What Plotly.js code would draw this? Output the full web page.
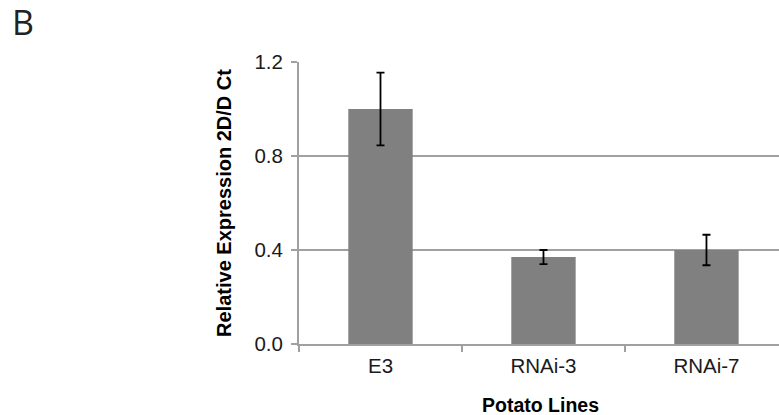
<!DOCTYPE html>
<html>
<head>
<meta charset="utf-8">
<script src="https://cdn.plot.ly/plotly-3.0.1.min.js"></script>
<style>html,body{margin:0;padding:0;background:#fff;}#chart{width:779px;height:415px;}</style>
</head>
<body>
<div id="chart"></div>
<script>
const categories = ["E3", "RNAi-3", "RNAi-7"];
const expression = [1.0, 0.37, 0.40];
const errors = [0.155, 0.03, 0.065];
const yTicks = [0, 0.4, 0.8, 1.2];

const W = 779, H = 415;
const mL = 299, mR = 0, mT = 62, mB = 71;
const plotW = W - mL - mR, plotH = H - mT - mB;
function px2paperX(px){ return (px - mL) / plotW; }
function px2paperY(py){ return 1 - (py - mT) / plotH; }

const trace = {
  type: "bar",
  x: categories,
  y: expression,
  width: 0.395,
  marker: {color: "#808080", line: {width: 0}},
  error_y: {type: "data", array: errors, visible: true, color: "#000000", thickness: 1.8, width: 4}
};

const layout = {
  width: W, height: H,
  margin: {l: mL, r: mR, t: mT, b: mB, pad: 0},
  paper_bgcolor: "#ffffff",
  plot_bgcolor: "#ffffff",
  showlegend: false,
  font: {family: "Liberation Sans, Arial, sans-serif", size: 20, color: "#1a1a1a"},
  xaxis: {
    type: "category",
    range: [-0.5, 2.445],
    showgrid: false,
    showline: true, linecolor: "#a0a0a0", linewidth: 2,
    ticks: "outside", tickson: "boundaries", ticklen: 6, tickcolor: "#a0a0a0", tickwidth: 1.5,
    ticklabelstandoff: 2,
    tickfont: {size: 20.5, color: "#1a1a1a"},
    zeroline: false, fixedrange: true
  },
  yaxis: {
    range: [0, 1.2],
    tickvals: yTicks,
    tickformat: ".1f",
    showgrid: true, gridcolor: "#a0a0a0", gridwidth: 2,
    showline: true, linecolor: "#a0a0a0", linewidth: 2,
    ticks: "outside", ticklen: 6, tickcolor: "#a0a0a0", tickwidth: 1.5,
    ticklabelstandoff: 4,
    tickfont: {size: 20.5, color: "#1a1a1a"},
    zeroline: false, fixedrange: true,
    title: {text: "<b>Relative Expression 2D/D Ct</b>", font: {size: 20, color: "#000000"}, standoff: 17}
  },
  annotations: [
    {text: "<b>Potato Lines</b>", xref: "x", yref: "paper", x: 0.98, y: px2paperY(405),
     xanchor: "center", yanchor: "middle", showarrow: false,
     font: {size: 19.5, color: "#000000"}},
    {text: "B", xref: "paper", yref: "paper", x: px2paperX(10), y: px2paperY(22),
     xanchor: "left", yanchor: "middle", showarrow: false,
     font: {family: "Open Sans, Noto Sans, sans-serif", size: 34, color: "#222222"}}
  ]
};

Plotly.newPlot("chart", [trace], layout, {displayModeBar: false, staticPlot: true});
</script>
</body>
</html>
